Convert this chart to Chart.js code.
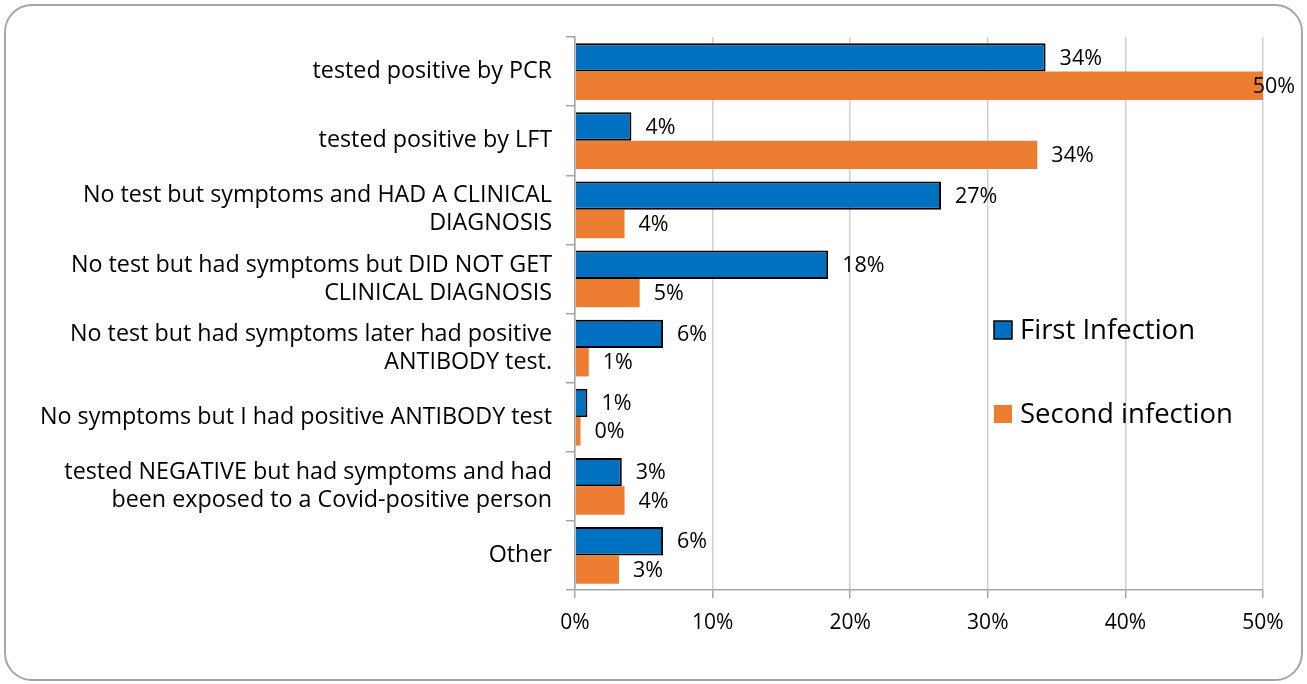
<!DOCTYPE html>
<html>
<head>
<meta charset="utf-8">
<script src="https://cdn.jsdelivr.net/npm/chart.js@4"></script>
<style>
    body { margin: 0; background: #ffffff; }
    #frame {
        position: absolute; left: 4px; top: 4px; width: 1295px; height: 673px;
        border: 2px solid #a6a6a6; border-radius: 28px; background: #ffffff;
    }
    #wrap { position: absolute; left: 0; top: 0; width: 1307px; height: 684px; }
</style>
</head>
<body>
<div id="frame"></div>
<div id="wrap"><canvas id="infeccionesChart" width="1307" height="684"></canvas></div>
<script>
// Datos del gráfico
const categorias = [
    'tested positive by PCR',
    'tested positive by LFT',
    ['No test but symptoms and HAD A CLINICAL', 'DIAGNOSIS'],
    ['No test but had symptoms but DID NOT GET', 'CLINICAL DIAGNOSIS'],
    ['No test but had symptoms later had positive', 'ANTIBODY test.'],
    'No symptoms but I had positive ANTIBODY test',
    ['tested NEGATIVE but had symptoms and had', 'been exposed to a Covid-positive person'],
    'Other'
];
const primeraInfeccion = [34.2, 4.1, 26.6, 18.4, 6.4, 0.9, 3.4, 6.4];
const segundaInfeccion = [50.3, 33.6, 3.6, 4.7, 1.0, 0.4, 3.6, 3.2];
const ticksX = [0, 10, 20, 30, 40, 50];

const FUENTE = '"Open Sans", "Noto Sans", sans-serif';

// Etiquetas de valor al final de cada barra
const etiquetasPlugin = {
    id: 'etiquetas',
    afterDatasetsDraw(chart) {
        const ctx = chart.ctx;
        ctx.save();
        ctx.font = '21.5px ' + FUENTE;
        ctx.fillStyle = '#000000';
        ctx.textBaseline = 'middle';
        chart.data.datasets.forEach((ds, i) => {
            const meta = chart.getDatasetMeta(i);
            meta.data.forEach((bar, j) => {
                const texto = Math.round(ds.data[j]) + '%';
                const ancho = ctx.measureText(texto).width;
                let x = bar.x + 14;
                if (x + ancho > chart.width - 12) x = chart.width - 12 - ancho;
                ctx.fillText(texto, x, bar.y + 1);
            });
        });
        ctx.restore();
    }
};

// Leyenda dentro del área del gráfico
const leyendaPlugin = {
    id: 'leyendaInterna',
    afterDraw(chart) {
        const ctx = chart.ctx;
        const posiciones = [330, 414];
        ctx.save();
        ctx.font = '27.5px ' + FUENTE;
        ctx.textBaseline = 'middle';
        chart.data.datasets.forEach((ds, i) => {
            const y = posiciones[i];
            ctx.fillStyle = ds.backgroundColor;
            ctx.fillRect(994, y - 9, 18, 18);
            if (ds.borderWidth) {
                ctx.strokeStyle = ds.borderColor;
                ctx.lineWidth = 1.5;
                ctx.strokeRect(994, y - 9, 18, 18);
            }
            ctx.fillStyle = '#000000';
            ctx.fillText(ds.label, 1020, y + 1);
        });
        ctx.restore();
    }
};

new Chart(document.getElementById('infeccionesChart').getContext('2d'), {
    type: 'bar',
    data: {
        labels: categorias,
        datasets: [
            {
                label: 'First Infection',
                data: primeraInfeccion,
                backgroundColor: '#0070c0',
                borderColor: '#000000',
                borderWidth: 2,
                borderSkipped: 'left'
            },
            {
                label: 'Second infection',
                data: segundaInfeccion,
                backgroundColor: '#ed7d31',
                borderWidth: 0
            }
        ]
    },
    options: {
        indexAxis: 'y',
        responsive: false,
        animation: false,
        layout: { padding: { top: 37, right: 44, left: 0, bottom: 0 } },
        datasets: { bar: { categoryPercentage: 0.82, barPercentage: 1 } },
        plugins: {
            legend: { display: false },
            tooltip: { enabled: false }
        },
        scales: {
            x: {
                min: 0,
                max: 50,
                afterBuildTicks(scale) {
                    scale.ticks = ticksX.map(v => ({ value: v }));
                },
                afterFit(scale) { scale.height = 94; },
                ticks: {
                    callback: v => v + '%',
                    color: '#000000',
                    font: { family: FUENTE, size: 21 },
                    padding: 12
                },
                grid: { color: '#d0d0d0', lineWidth: 1.5, tickLength: 8, tickColor: '#a6a6a6' },
                border: { color: '#a6a6a6', width: 1.5 }
            },
            y: {
                afterFit(scale) { scale.width = 575; },
                ticks: {
                    color: '#000000',
                    font: { family: FUENTE, size: 23.3, lineHeight: 1.2 },
                    padding: 14,
                    autoSkip: false
                },
                grid: { drawOnChartArea: false, tickLength: 9, color: '#a6a6a6', lineWidth: 1.5, offset: true },
                border: { color: '#a6a6a6', width: 1.5 }
            }
        }
    },
    plugins: [etiquetasPlugin, leyendaPlugin]
});
</script>
</body>
</html>
